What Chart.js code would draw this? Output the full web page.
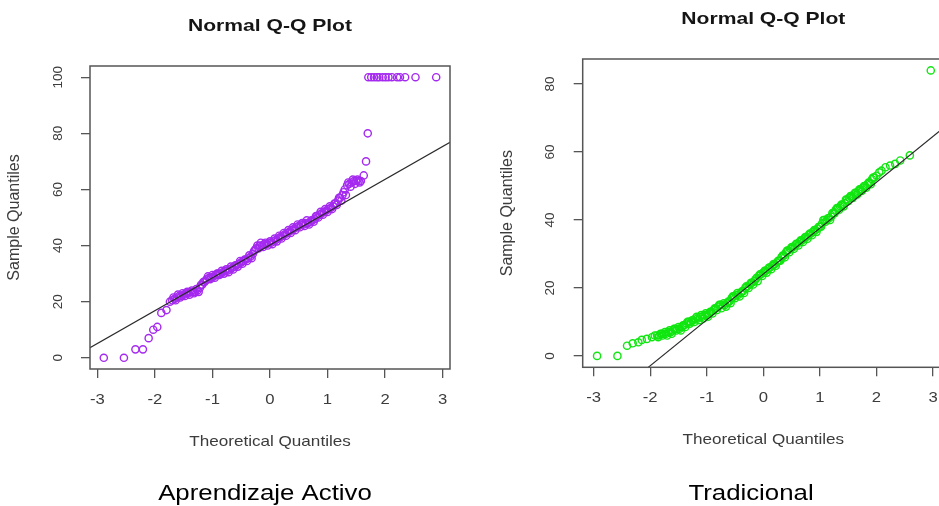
<!DOCTYPE html>
<html>
<head>
<meta charset="utf-8">
<script src="https://cdn.jsdelivr.net/npm/chart.js@4/dist/chart.umd.min.js"></script>
<style>
  html, body { margin:0; padding:0; background:#fff; width:939px; height:506px; overflow:hidden; }
  canvas { position:absolute; top:0; }
  #qqActivo { left:0; }
  #qqTradicional { left:480px; }
</style>
</head>
<body>
<canvas id="qqActivo" width="470" height="506"></canvas>
<canvas id="qqTradicional" width="480" height="506"></canvas>
<script>
/* tick labels */
const xTicks = [-3, -2, -1, 0, 1, 2, 3];
const activoYTicks = [0, 20, 40, 60, 80, 100];
const tradicionalYTicks = [0, 20, 40, 60, 80];

/* qqnorm output: [theoretical quantile, sample value] */
const activoPts = [
  [-2.89,0],[-2.54,0],[-2.34,3],[-2.21,3],[-2.11,7],[-2.03,10],[-1.96,11],[-1.89,16],[-1.80,17],[-1.74,20],
  [-1.70,20.5],[-1.66,21],[-1.62,21.5],[-1.58,22],[-1.54,22],[-1.50,22.5],[-1.46,23],[-1.42,23],[-1.38,23.5],
  [-1.34,23.5],[-1.30,23.5],[-1.26,24],[-1.22,25],[-1.18,26],[-1.14,27],[-1.10,28],[-1.06,28.5],[-1.02,28.5],
  [-0.98,29],[-0.94,29.5],[-0.90,30],[-0.86,30],[-0.82,30.5],[-0.78,31],[-0.74,31],[-0.70,31.5],[-0.66,32],
  [-0.62,32.5],[-0.58,33],[-0.54,33.5],[-0.50,34],[-0.46,34.5],[-0.42,35],[-0.38,35.5],[-0.34,36],[-0.30,37],
  [-0.26,38.5],[-0.22,40],[-0.18,40],[-0.14,40],[-0.10,40.5],[-0.06,40.5],[-0.02,41],[0.02,41],[0.06,41.5],
  [0.10,42],[0.14,42.5],[0.18,43],[0.22,43.5],[0.26,44],[0.30,44.5],[0.34,45],[0.38,45.5],[0.42,46],[0.46,46.5],
  [0.50,47],[0.54,47.5],[0.58,47.5],[0.62,48],[0.66,48],[0.70,48.5],[0.74,49],[0.78,49.5],[0.82,50.5],[0.86,51],
  [0.90,51.5],[0.94,52],[0.98,52.5],[1.02,53],[1.06,53.5],[1.10,54],[1.14,55],[1.18,56],[1.22,57],[1.26,58],
  [1.30,60],[1.34,61.5],[1.38,62],[1.42,62.5],[1.46,63],[1.50,63],[1.54,63],[1.58,63],[1.63,65],[1.67,70],[1.70,80],
  [1.71,100],[1.76,100],[1.81,100],[1.86,100],[1.90,100],[1.96,100],[2.01,100],[2.06,100],[2.12,100],
  [2.21,100],[2.26,100],[2.35,100],[2.53,100],[2.89,100],
  [-1.68,21.5],[-1.64,20.5],[-1.60,22.5],[-1.56,21.5],[-1.52,23],[-1.48,22],[-1.44,23.5],[-1.40,22.5],[-1.36,24],
  [-1.32,23],[-1.28,24.5],[-1.24,23.5],[-1.20,26],[-1.16,27],[-1.12,27.5],[-1.08,29],[-1.04,28],[-1.00,29.5],
  [-0.96,28.5],[-0.92,30],[-0.88,29.5],[-0.84,31],[-0.80,30],[-0.76,31.5],[-0.72,30.5],[-0.68,32.5],[-0.64,31.5],
  [-0.60,33],[-0.56,32.5],[-0.52,34.5],[-0.48,33.5],[-0.44,35],[-0.40,34.5],[-0.36,36.5],[-0.32,35.5],[-0.28,38],
  [-0.24,39],[-0.20,39],[-0.16,41],[-0.12,39.5],[-0.08,41],[-0.04,40],[0.00,41.5],[0.04,40.5],[0.08,42.5],
  [0.12,41.5],[0.16,43.5],[0.20,42.5],[0.24,44.5],[0.28,43.5],[0.32,45.5],[0.36,44.5],[0.40,46.5],[0.44,45.5],
  [0.48,47.5],[0.52,46.5],[0.56,48],[0.60,47],[0.64,49],[0.68,47.5],[0.72,49],[0.76,48.5],[0.80,50.5],[0.84,50],
  [0.88,52],[0.92,51],[0.96,53],[1.00,52],[1.04,54],[1.08,53],[1.12,55],[1.16,54.5],[1.20,57],[1.24,56],
  [1.28,59],[1.32,58],[1.36,62.5],[1.40,61],[1.44,63.5],[1.48,62],[1.52,63.5],[1.56,62.5]
];
const tradicionalPts = [
  [-2.94,0],[-2.58,0],[-2.41,3],[-2.31,3.7],[-2.21,4],[-2.15,4.7],[-2.06,5],[-1.97,5.5],[-1.92,6],
  [-1.88,6],[-1.84,6],[-1.80,6.5],[-1.76,6.5],[-1.72,6.5],[-1.68,7],[-1.64,7],[-1.60,7.5],[-1.56,8],[-1.52,8],
  [-1.48,8],[-1.44,8.5],[-1.40,9],[-1.36,9.5],[-1.32,10],[-1.28,10],[-1.24,10.5],[-1.20,11],[-1.16,11],
  [-1.12,11.5],[-1.08,11.5],[-1.04,12],[-1.00,12],[-0.96,12.5],[-0.92,13],[-0.88,13.5],[-0.84,14],[-0.80,14.5],
  [-0.76,15],[-0.72,15],[-0.68,15],[-0.64,15.5],[-0.60,16],[-0.56,17],[-0.52,17.5],[-0.48,18],[-0.44,18],
  [-0.40,18.5],[-0.36,19],[-0.32,20],[-0.28,20.5],[-0.24,21],[-0.20,21.5],[-0.16,22],[-0.12,23],[-0.08,23.5],
  [-0.04,24],[0.00,24.5],[0.04,25],[0.08,25.5],[0.12,26],[0.16,26.5],[0.20,27],[0.24,27.5],[0.28,28],[0.32,29],
  [0.36,29.5],[0.40,30.5],[0.44,31],[0.48,31.5],[0.52,32],[0.56,32.5],[0.60,33],[0.64,33.5],[0.68,34],[0.72,34.5],
  [0.76,35],[0.80,35.5],[0.84,36],[0.88,36.5],[0.92,37],[0.96,37.5],[1.00,38],[1.04,39],[1.08,40],[1.12,40],
  [1.16,40.5],[1.20,41],[1.24,42],[1.28,43],[1.32,43.5],[1.36,44],[1.40,44.5],[1.44,45],[1.48,46],[1.52,46.5],
  [1.56,47],[1.60,47.5],[1.64,48],[1.68,48.5],[1.72,49],[1.76,49.5],[1.80,50],[1.84,50.5],[1.88,51],[1.92,52],
  [1.96,52.5],[2.00,53],[2.05,54],[2.09,54.5],[2.16,55.5],[2.24,56],[2.33,56.5],[2.42,57.5],[2.59,59],[2.96,84],
  [-1.86,5.5],[-1.82,6.5],[-1.78,6],[-1.74,7],[-1.70,6],[-1.66,7.5],[-1.62,6.5],[-1.58,8],[-1.54,7.5],[-1.50,8.5],
  [-1.46,7.5],[-1.42,9],[-1.38,8.5],[-1.34,10],[-1.30,9.5],[-1.26,10.5],[-1.22,10],[-1.18,11.5],[-1.14,10.5],
  [-1.10,12],[-1.06,11],[-1.02,12.5],[-0.98,11.5],[-0.94,13],[-0.90,12.5],[-0.86,14],[-0.82,13.5],[-0.78,15],
  [-0.74,14],[-0.70,15.5],[-0.66,14.5],[-0.62,16],[-0.58,15.5],[-0.54,17.5],[-0.50,17],[-0.46,18.5],[-0.42,17.5],
  [-0.38,19],[-0.34,18.5],[-0.30,20.5],[-0.26,20],[-0.22,21.5],[-0.18,21],[-0.14,22.5],[-0.10,22],[-0.06,24],
  [-0.02,23.5],[0.02,25],[0.06,24.5],[0.10,26],[0.14,25.5],[0.18,27],[0.22,26.5],[0.26,28],[0.30,28],[0.34,29.5],
  [0.38,29],[0.42,31],[0.46,30.5],[0.50,32],[0.54,31.5],[0.58,33],[0.62,32.5],[0.66,34],[0.70,33.5],[0.74,35],
  [0.78,34.5],[0.82,36],[0.86,35.5],[0.90,37],[0.94,36.5],[0.98,38],[1.02,38],[1.06,40],[1.10,39.5],[1.14,40.5],
  [1.18,40],[1.22,42],[1.26,42],[1.30,43.5],[1.34,43],[1.38,44.5],[1.42,44],[1.46,46],[1.50,45.5],[1.54,47],
  [1.58,46.5],[1.62,48],[1.66,47.5],[1.70,49],[1.74,48.5],[1.78,50],[1.82,49.5],[1.86,51],[1.90,50.5],[1.94,52.5]
];

/* qqline: [intercept, slope] */
const activoLine = [40.2, 11.7];
const tradicionalLine = [24.1, 13.5];

const FONT = '"Liberation Sans", Arial, Helvetica, sans-serif';

function stretchText(ctx, str, x, y, sx, rot){
  ctx.save();
  ctx.translate(x, y);
  if(rot) ctx.rotate(rot);
  ctx.scale(sx, 1);
  ctx.fillText(str, 0, 0);
  ctx.restore();
}

/* R-style frame: box, titles, tick labels */
const rFrame = {
  id: 'rFrame',
  afterDraw(chart, args, o){
    const {ctx, chartArea:a, scales:{x, y}} = chart;
    const midX = (a.left + a.right)/2, midY = (a.top + a.bottom)/2;
    ctx.save();
    ctx.strokeStyle = '#555';
    ctx.lineWidth = 1.5;
    ctx.strokeRect(a.left, a.top, a.right - a.left, a.bottom - a.top);

    ctx.textAlign = 'center';
    ctx.textBaseline = 'middle';
    ctx.fillStyle = '#151515';
    ctx.font = 'bold 17px ' + FONT;
    stretchText(ctx, o.title, midX, a.top - 39.5, 1.24);

    ctx.fillStyle = '#3c3c3c';
    ctx.font = '15px ' + FONT;
    stretchText(ctx, o.xlab, midX, a.bottom + 72.5, 1.14);
    ctx.font = '16px ' + FONT;
    stretchText(ctx, o.ylab, a.left - 75, midY, 1, -Math.PI/2);

    ctx.font = '14.5px ' + FONT;
    xTicks.forEach(v => stretchText(ctx, String(v), x.getPixelForValue(v), a.bottom + 31, 1.15));
    ctx.font = '13.5px ' + FONT;
    o.yTicks.forEach(v => stretchText(ctx, String(v), a.left - 32, y.getPixelForValue(v), 1, -Math.PI/2));

    ctx.fillStyle = '#000';
    ctx.textBaseline = 'alphabetic';
    ctx.font = '21.5px ' + FONT;
    stretchText(ctx, o.caption, o.capX, 500, 1.2);
    ctx.restore();
  }
};

function qqChart(id, pts, line, color, yTicks, view, text){
  const canvas = document.getElementById(id);
  const W = canvas.width, H = canvas.height;
  const [a, b] = line;
  const axisGrid = {drawOnChartArea:false, drawTicks:true, tickLength:9, color:'#555', lineWidth:1.3};
  return new Chart(canvas, {
    data: {
      datasets: [
        {
          type: 'line',
          data: [{x:view.xMin, y:a + b*view.xMin}, {x:view.xMax, y:a + b*view.xMax}],
          borderColor: '#2a2a2a', borderWidth: 1.1, pointRadius: 0, order: 0
        },
        {
          type: 'scatter',
          data: pts.map(([t, v]) => ({x:t, y:v})),
          borderColor: color, backgroundColor: 'rgba(0,0,0,0)',
          pointRadius: 3.6, borderWidth: 1.4, order: 1
        }
      ]
    },
    options: {
      responsive: false,
      animation: false,
      layout: {padding: {top: view.top, right: W - view.right, left: 0, bottom: 0}},
      plugins: {
        legend: {display:false},
        tooltip: {enabled:false},
        rFrame: Object.assign({yTicks}, text)
      },
      scales: {
        x: {
          type: 'linear', position: 'bottom', min: view.xMin, max: view.xMax,
          afterBuildTicks: s => { s.ticks = xTicks.map(v => ({value:v})); },
          afterFit: s => { s.height = H - view.bottom; },
          ticks: {display:false}, grid: axisGrid, border: {display:false}
        },
        y: {
          type: 'linear', position: 'left', min: view.yMin, max: view.yMax,
          afterBuildTicks: s => { s.ticks = yTicks.map(v => ({value:v})); },
          afterFit: s => { s.width = view.left; },
          ticks: {display:false}, grid: axisGrid, border: {display:false}
        }
      }
    },
    plugins: [rFrame]
  });
}

qqChart('qqActivo', activoPts, activoLine, '#a52af0', activoYTicks,
  {xMin:-3.13, xMax:3.13, yMin:-4, yMax:104, left:90, top:66, right:450, bottom:369},
  {title:'Normal Q-Q Plot', xlab:'Theoretical Quantiles', ylab:'Sample Quantiles', caption:'Aprendizaje Activo', capX:265});

qqChart('qqTradicional', tradicionalPts, tradicionalLine, '#10e610', tradicionalYTicks,
  {xMin:-3.194, xMax:3.194, yMin:-3.36, yMax:87.36, left:102.7, top:59, right:464, bottom:367.3},
  {title:'Normal Q-Q Plot', xlab:'Theoretical Quantiles', ylab:'Sample Quantiles', caption:'Tradicional', capX:271});
</script>
</body>
</html>
